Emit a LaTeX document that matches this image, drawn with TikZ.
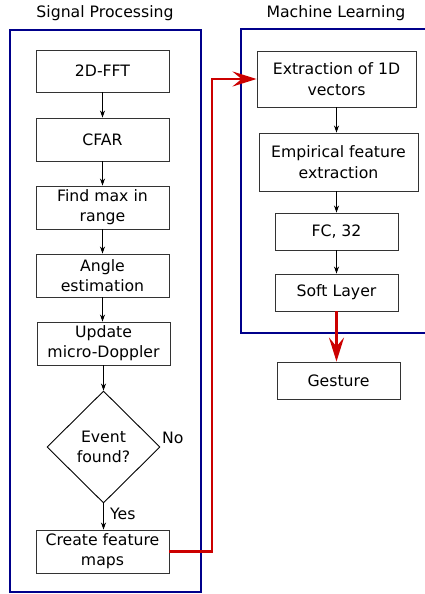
\documentclass[tikz,border=0pt]{standalone}
\usepackage{fontspec}
\setmainfont{DejaVu Sans}
\usetikzlibrary{arrows.meta,shapes.geometric}
\definecolor{frameblue}{HTML}{00008B}
\definecolor{flowred}{HTML}{CC0000}
\definecolor{boxgray}{HTML}{333333}
\tikzset{
  stagebox/.style={draw=boxgray,line width=0.9pt,align=center,inner sep=0pt,
    font=\fontsize{15.7}{20.3}\selectfont},
  decision/.style={diamond,draw=black,line width=0.9pt,align=center,inner sep=0pt,
    minimum width=113pt,minimum height=112pt,font=\fontsize{15.7}{20.3}\selectfont},
  label/.style={font=\fontsize{15.7}{20.3}\selectfont,inner sep=0pt},
  group/.style={draw=frameblue,line width=2.6pt},
  flow/.style={-{Stealth[length=7pt,width=5pt]},line width=0.8pt},
  redflow/.style={draw=flowred,line width=2.8pt,-{Stealth[length=24pt,width=15pt,inset=9pt]}}
}
\begin{document}
\begin{tikzpicture}[x=1pt,y=-1pt]
\useasboundingbox (0,0) rectangle (425,594);
\fill[white] (0,0) rectangle (425,594);

% group frames
\draw[group] (10,30) rectangle (201,592);
\begin{scope}
  \clip (0,0) rectangle (425,594);
  \draw[group] (241,29) rectangle (445,333);
\end{scope}
\node[label] (sptitle) at (105,13) {Signal Processing};
\node[label] (mltitle) at (336,13) {Machine Learning};

% signal processing chain
\node[stagebox,minimum width=133pt,minimum height=42pt] (fft) at (102.5,71) {2D-FFT};
\node[stagebox,minimum width=133pt,minimum height=43pt] (cfar) at (102.5,139.5) {CFAR};
\node[stagebox,minimum width=133pt,minimum height=43pt] (findmax) at (102.5,207.5) {Find max in\\range};
\node[stagebox,minimum width=133pt,minimum height=43pt] (angle) at (102.5,275.5) {Angle\\estimation};
\node[stagebox,minimum width=133pt,minimum height=43pt] (update) at (103.5,343.5) {Update\\micro-Doppler};
\node[decision] (event) at (103.5,447) {Event\\found?};
\node[stagebox,minimum width=133pt,minimum height=43pt] (cfm) at (102.5,551.5) {Create feature\\maps};
\node[label,anchor=west] (no) at (162,438) {No};
\node[label,anchor=west] (yes) at (110,514) {Yes};

\draw[flow] (fft) -- (cfar);
\draw[flow] (cfar) -- (findmax);
\draw[flow] (findmax) -- (angle);
\draw[flow] (angle.south) -- (angle.south |- update.north);
\draw[flow] (update) -- (event);
\draw[flow] (event.south) -- (event.south |- cfm.north);

% machine learning chain
\node[stagebox,minimum width=159pt,minimum height=56pt] (ext) at (336.5,79) {Extraction of 1D\\vectors};
\node[stagebox,minimum width=159pt,minimum height=58pt] (emp) at (338.5,162) {Empirical feature\\extraction};
\node[stagebox,minimum width=123pt,minimum height=37pt] (fc) at (336.5,231.5) {FC, 32};
\node[stagebox,minimum width=123pt,minimum height=37pt] (soft) at (336.5,292.5) {Soft Layer};
\node[stagebox,minimum width=123pt,minimum height=37pt] (gesture) at (338.5,380.5) {Gesture};

\draw[flow] (ext.south -| fc) -- (emp.north -| fc);
\draw[flow] (emp.south -| fc) -- (fc);
\draw[flow] (fc) -- (soft);

% hand-over between the two stages
\coordinate (bend) at (212,551.5);
\draw[redflow] (cfm.east) -- (bend) |- (ext.west);
\draw[redflow] (soft.south) -- (soft.south |- gesture.north);
\end{tikzpicture}
\end{document}
